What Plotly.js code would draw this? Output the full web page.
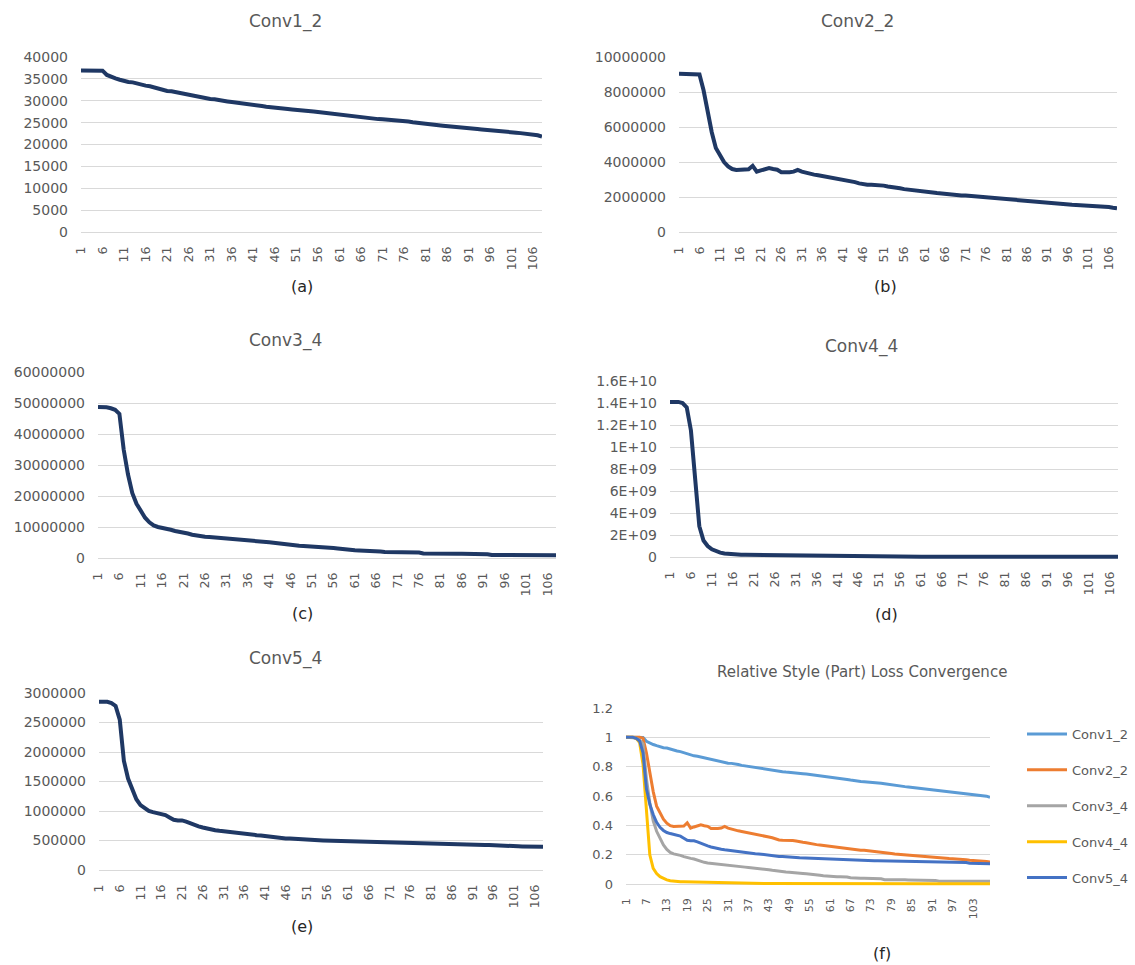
<!DOCTYPE html>
<html>
<head>
<meta charset="utf-8">
<script src="https://cdn.plot.ly/plotly-3.0.1.min.js"></script>
<style>
html,body{margin:0;padding:0;background:#ffffff;}
#chart{width:1135px;height:965px;}
</style>
</head>
<body>
<div id="chart"></div>
<script>
// ---------------- DATA ----------------
const epochs = Array.from({length: 108}, (_, i) => i + 1);

const conv1_2 = [36900,36900,36900,36900,36900,36880,35900,35400,35100,34800,
 34500,34300,34200,33900,33600,33450,33300,33000,32700,32450,
 32250,32150,31950,31700,31450,31250,31100,30900,30700,30550,
 30400,30350,30250,30050,29850,29700,29600,29450,29300,29200,
 29100,28950,28800,28650,28500,28350,28250,28150,28100,28000,
 27950,27850,27750,27650,27550,27430,27300,27200,27050,26950,
 26820,26700,26600,26500,26400,26290,26150,26000,25900,25800,
 25750,25700,25650,25550,25450,25370,25250,25100,24950,24800,
 24690,24600,24500,24400,24300,24230,24150,24000,23900,23800,
 23700,23650,23550,23450,23380,23310,23250,23150,23000,22900,
 22780,22700,22600,22500,22450,22380,22100,21800];

const conv2_2 = [9050000,9050000,9050000,9050000,9050000,9000000,8100000,6900000,5700000,4800000,
 4350000,4000000,3750000,3600000,3550000,3550000,3560000,3580000,3780000,3450000,
 3520000,3580000,3650000,3600000,3560000,3420000,3400000,3420000,3450000,3550000,
 3450000,3380000,3330000,3280000,3240000,3200000,3150000,3120000,3100000,3040000,
 3000000,2950000,2900000,2850000,2780000,2720000,2700000,2700000,2690000,2680000,
 2650000,2600000,2580000,2550000,2500000,2450000,2430000,2410000,2380000,2350000,
 2320000,2290000,2260000,2230000,2200000,2170000,2140000,2120000,2100000,2090000,
 2080000,2060000,2040000,2010000,1990000,1980000,1950000,1920000,1880000,1850000,
 1830000,1820000,1800000,1770000,1750000,1740000,1730000,1720000,1700000,1680000,
 1660000,1650000,1630000,1610000,1590000,1570000,1560000,1550000,1540000,1520000,
 1490000,1460000,1450000,1440000,1440000,1430000,1390000,1360000];

const conv3_4 = [48700000,48700000,48600000,48300000,47800000,46500000,35000000,27000000,21000000,17500000,
 15000000,13000000,11500000,10500000,10000000,9800000,9500000,9100000,8700000,8500000,
 8300000,7900000,7500000,7200000,7000000,6850000,6750000,6650000,6550000,6400000,
 6250000,6150000,6050000,5900000,5750000,5600000,5500000,5400000,5300000,5200000,
 5100000,4950000,4750000,4550000,4350000,4150000,4000000,3950000,3900000,3850000,
 3800000,3700000,3500000,3380000,3320000,3250000,3100000,2900000,2720000,2600000,
 2500000,2450000,2420000,2400000,2380000,2350000,2080000,1950000,1930000,1920000,
 1910000,1900000,1890000,1880000,1870000,1750000,1450000,1400000,1390000,1385000,
 1380000,1375000,1370000,1365000,1360000,1360000,1355000,1350000,1350000,1345000,
 1340000,1200000,950000,930000,925000,920000,918000,915000,912000,910000,
 908000,905000,902000,900000,898000,895000,892000,890000];

const conv4_4 = [1.41e10,1.41e10,1.41e10,1.40e10,1.36e10,1.15e10,7.5e9,2.8e9,1.5e9,1.0e9,
 7.0e8,5.2e8,4.0e8,3.2e8,2.7e8,2.3e8,2.15e8,2.05e8,1.95e8,1.9e8,
 1.85e8,1.8e8,1.75e8,1.7e8,1.65e8,1.6e8,1.55e8,1.5e8,1.4e8,1.3e8,
 1.0e8,8.0e7,6.5e7,5.8e7,5.3e7,5.0e7,4.8e7,4.6e7,4.4e7,4.2e7,
 4.0e7,3.9e7,3.8e7,3.7e7,3.6e7,3.5e7,3.4e7,3.3e7,3.2e7,3.1e7,
 3.0e7,2.95e7,2.9e7,2.85e7,2.8e7,2.75e7,2.7e7,2.65e7,2.6e7,2.55e7,
 2.5e7,2.45e7,2.4e7,2.35e7,2.3e7,2.28e7,2.25e7,2.22e7,2.2e7,2.17e7,
 2.15e7,2.12e7,2.1e7,2.07e7,2.05e7,2.02e7,2.0e7,1.98e7,1.96e7,1.94e7,
 1.92e7,1.9e7,1.88e7,1.86e7,1.84e7,1.82e7,1.8e7,1.78e7,1.76e7,1.74e7,
 1.72e7,1.7e7,1.68e7,1.66e7,1.64e7,1.62e7,1.6e7,1.58e7,1.56e7,1.54e7,
 1.52e7,1.5e7,1.48e7,1.46e7,1.44e7,1.42e7,1.4e7,1.38e7];

const conv5_4 = [2850000,2850000,2850000,2830000,2780000,2550000,1850000,1550000,1350000,1200000,
 1100000,1040000,1000000,980000,960000,950000,930000,890000,850000,840000,
 840000,820000,790000,770000,740000,720000,700000,690000,675000,665000,
 655000,650000,645000,635000,620000,605000,600000,595000,590000,585000,
 575000,565000,555000,545000,540000,535000,533000,531000,530000,528000,
 515000,508000,505000,503000,500000,498000,496000,494000,485000,480000,
 478000,476000,475000,474000,473000,472000,471000,470000,468000,458000,
 455000,454000,453000,452000,451000,450000,449000,448000,447000,446000,
 445000,444000,432000,430000,429000,428000,428000,427000,427000,426000,
 426000,425000,425000,424000,424000,423000,423000,422000,422000,421000,
 418000,402000,400000,399000,398000,397000,396000,395000];

const seriesNames = ['Conv1_2','Conv2_2','Conv3_4','Conv4_4','Conv5_4'];
const panelLabels = ['(a)','(b)','(c)','(d)','(e)','(f)'];
const fTitle = 'Relative Style (Part) Loss Convergence';

const xTicksAE = [1,6,11,16,21,26,31,36,41,46,51,56,61,66,71,76,81,86,91,96,101,106];
const xTicksF  = [1,7,13,19,25,31,37,43,49,55,61,67,73,79,85,91,97,103];

const yTicksA = [0,5000,10000,15000,20000,25000,30000,35000,40000];
const yTextA  = ['0','5000','10000','15000','20000','25000','30000','35000','40000'];
const yTicksB = [0,2000000,4000000,6000000,8000000,10000000];
const yTextB  = ['0','2000000','4000000','6000000','8000000','10000000'];
const yTicksC = [0,10000000,20000000,30000000,40000000,50000000,60000000];
const yTextC  = ['0','10000000','20000000','30000000','40000000','50000000','60000000'];
const yTicksD = [0,2e9,4e9,6e9,8e9,1e10,1.2e10,1.4e10,1.6e10];
const yTextD  = ['0','2E+09','4E+09','6E+09','8E+09','1E+10','1.2E+10','1.4E+10','1.6E+10'];
const yTicksE = [0,500000,1000000,1500000,2000000,2500000,3000000];
const yTextE  = ['0','500000','1000000','1500000','2000000','2500000','3000000'];
const yTicksF = [0,0.2,0.4,0.6,0.8,1,1.2];
const yTextF  = ['0','0.2','0.4','0.6','0.8','1','1.2'];

// ---------------- LAYOUT ----------------
const W = 1135, H = 965;
const NAVY = '#1f3864';
const GREY = '#595959';
const GRID = '#d9d9d9';
const FONT = 'DejaVu Sans, Verdana, sans-serif';
const fColors = ['#5B9BD5','#ED7D31','#A5A5A5','#FFC000','#4472C4'];

// plot-area boxes in pixels: left, right, top (max gridline), zero line
const boxes = [
  {x0: 81,  x1: 542,  top: 57,  zero: 232},
  {x0: 679, x1: 1117, top: 57,  zero: 232},
  {x0: 98,  x1: 556,  top: 372, zero: 558},
  {x0: 670, x1: 1118, top: 381, zero: 557},
  {x0: 99,  x1: 543,  top: 693, zero: 870},
  {x0: 626, x1: 990,  top: 708, zero: 884}
];
const titlePos = [[285,21],[857,21],[285,341],[861,346],[285,658],[862,672]];
const subPos   = [[302,286],[885,286],[302,613],[886,614],[302,926],[882,953]];
const titleTexts = ['Conv1_2','Conv2_2','Conv3_4','Conv4_4','Conv5_4', fTitle];

const yTickSets = [[yTicksA,yTextA],[yTicksB,yTextB],[yTicksC,yTextC],[yTicksD,yTextD],[yTicksE,yTextE],[yTicksF,yTextF]];

const layout = {
  width: W, height: H,
  margin: {l:0, r:0, t:0, b:0, pad:0},
  paper_bgcolor: '#ffffff', plot_bgcolor: '#ffffff',
  font: {family: FONT, color: GREY, size: 14},
  showlegend: true,
  hovermode: false,
  legend: {
    x: 1022/W, y: 1 - 719/H, xanchor: 'left', yanchor: 'top',
    bgcolor: 'rgba(0,0,0,0)', borderwidth: 0,
    font: {family: FONT, size: 13, color: GREY},
    tracegroupgap: 16, itemwidth: 40
  },
  annotations: []
};

const PAD = 5;
boxes.forEach((b, k) => {
  const n = k === 0 ? '' : String(k + 1);
  const ticks = yTickSets[k];
  const ymax = ticks[0][ticks[0].length - 1];
  const isF = k === 5;
  layout['xaxis' + n] = {
    domain: [b.x0 / W, b.x1 / W],
    range: [1, 108],
    anchor: 'y' + n,
    tickmode: 'array',
    tickvals: isF ? xTicksF : xTicksAE,
    ticktext: (isF ? xTicksF : xTicksAE).map(String),
    tickangle: -90,
    tickfont: {family: FONT, size: isF ? 11 : 12.5, color: GREY},
    showgrid: false, zeroline: false, showline: false, ticks: '',
    ticklabelstandoff: 6,
    fixedrange: true
  };
  layout['yaxis' + n] = {
    domain: [1 - (b.zero + PAD) / H, 1 - b.top / H],
    range: [-ymax * PAD / (b.zero - b.top), ymax],
    anchor: 'x' + n,
    tickmode: 'array',
    tickvals: ticks[0],
    ticktext: ticks[1],
    tickfont: {family: FONT, size: isF ? 13 : 14, color: GREY},
    showgrid: true, gridcolor: GRID, gridwidth: 1,
    zeroline: true, zerolinecolor: GRID, zerolinewidth: 1,
    showline: false, ticks: '',
    ticklabelstandoff: 12,
    fixedrange: true
  };
  layout.annotations.push({
    xref: 'paper', yref: 'paper', x: titlePos[k][0] / W, y: 1 - titlePos[k][1] / H,
    xanchor: 'center', yanchor: 'middle', showarrow: false,
    text: titleTexts[k], font: {family: FONT, size: isF ? 15 : 17, color: GREY}
  });
  layout.annotations.push({
    xref: 'paper', yref: 'paper', x: subPos[k][0] / W, y: 1 - subPos[k][1] / H,
    xanchor: 'center', yanchor: 'middle', showarrow: false,
    text: panelLabels[k], font: {family: FONT, size: 16, color: '#262626'}
  });
});

// ---------------- TRACES ----------------
const absSeries = [conv1_2, conv2_2, conv3_4, conv4_4, conv5_4];
const traces = [];
absSeries.forEach((s, k) => {
  const n = k === 0 ? '' : String(k + 1);
  traces.push({
    type: 'scatter', mode: 'lines', x: epochs, y: s,
    xaxis: 'x' + n, yaxis: 'y' + n,
    line: {color: NAVY, width: 4},
    showlegend: false, hoverinfo: 'skip'
  });
});
absSeries.forEach((s, k) => {
  traces.push({
    type: 'scatter', mode: 'lines', x: epochs, y: s.map(v => v / s[0]),
    xaxis: 'x6', yaxis: 'y6',
    name: seriesNames[k], legendgroup: seriesNames[k],
    line: {color: fColors[k], width: 3},
    showlegend: true, hoverinfo: 'skip'
  });
});

Plotly.newPlot('chart', traces, layout, {staticPlot: true, displayModeBar: false});
</script>
</body>
</html>
